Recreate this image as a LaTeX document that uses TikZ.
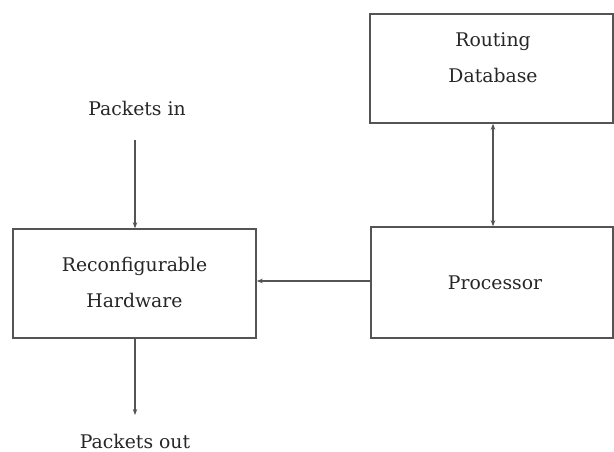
\documentclass[tikz,border=0pt]{standalone}
\usepackage{fontspec}
\setmainfont{DejaVu Serif}
\usetikzlibrary{arrows.meta}
\definecolor{ink}{gray}{0.33}
\definecolor{txt}{gray}{0.15}
\tikzset{
  blockbox/.style={draw=ink, line width=1.4pt, rectangle, inner sep=0pt},
  label/.style={text=txt, font=\fontsize{18.8}{36}\selectfont, align=center, inner sep=0pt},
  flow/.style={draw=ink, line width=1.2pt, -{Stealth[length=6pt,width=4.5pt]}},
  biflow/.style={draw=ink, line width=1.2pt, {Stealth[length=6pt,width=4.5pt]}-{Stealth[length=6pt,width=4.5pt]}}
}
\begin{document}
\begin{tikzpicture}[x=1pt,y=-1pt]
  \useasboundingbox (0,0) rectangle (614,452);
  % blocks
  \node[blockbox, minimum width=243pt, minimum height=109pt] (db) at (491.5,68.5) {};
  \node[blockbox, minimum width=242pt, minimum height=111pt] (cpu) at (492,282.5) {};
  \node[blockbox, minimum width=243pt, minimum height=109pt] (hw) at (134.5,283.5) {};
  % block texts
  \node[label] (dbtext) at (493,57.5) {Routing\\Database};
  \node[label] (cputext) at (495,283) {Processor};
  \node[label] (hwtext) at (134.5,282.5) {Reconfigurable\\Hardware};
  % packet labels
  \node[label] (pin) at (137,108) {Packets in};
  \node[label] (pout) at (135,441) {Packets out};
  \coordinate (inTop) at (135,140);
  \coordinate (outEnd) at (135,415);
  % connectors
  \draw[flow] (inTop) -- (inTop |- hw.north);
  \draw[flow] (hw.south -| outEnd) -- (outEnd);
  \draw[flow] (cpu.west |- 0,281) -- (hw.east |- 0,281);
  \draw[biflow] (db.south -| 493,0) -- (cpu.north -| 493,0);
\end{tikzpicture}
\end{document}
